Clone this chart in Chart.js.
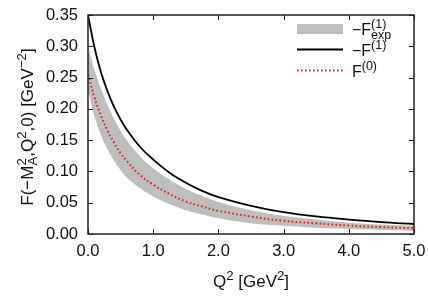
<!DOCTYPE html>
<html>
<head>
<meta charset="utf-8">
<script src="https://cdn.jsdelivr.net/npm/chart.js@4.4.1/dist/chart.umd.min.js"></script>
<style>
  html, body { margin: 0; padding: 0; background: #fff; }
  #wrap { width: 428px; height: 298px; }
</style>
</head>
<body>
<div id="wrap"><canvas id="chart" width="428" height="298"></canvas></div>
<script>
// Q^2 grid [GeV^2] and values
var q2 = [0, 0.1, 0.2, 0.3, 0.4, 0.5, 0.6, 0.8, 1.0, 1.25, 1.5, 1.75, 2.0, 2.5, 3.0, 3.5, 4.0, 4.5, 5.0];
var fTheory = [0.350, 0.298, 0.258, 0.228, 0.203, 0.183, 0.166, 0.139, 0.119, 0.098, 0.082, 0.069, 0.059, 0.045, 0.035, 0.028, 0.023, 0.019, 0.016];
var fExpUpper = [0.300, 0.262, 0.232, 0.206, 0.184, 0.165, 0.149, 0.124, 0.105, 0.087, 0.072, 0.061, 0.051, 0.038, 0.029, 0.023, 0.018, 0.015, 0.013];
var fExpLower = [0.230, 0.188, 0.158, 0.135, 0.117, 0.102, 0.090, 0.073, 0.060, 0.048, 0.038, 0.031, 0.025, 0.017, 0.013, 0.010, 0.008, 0.0065, 0.0052];
var fZero = [0.255, 0.218, 0.189, 0.165, 0.146, 0.129, 0.116, 0.094, 0.079, 0.064, 0.052, 0.044, 0.037, 0.028, 0.021, 0.017, 0.0135, 0.011, 0.0093];
var xTicks = [0, 1, 2, 3, 4, 5];
var yTicks = [0, 0.05, 0.10, 0.15, 0.20, 0.25, 0.30, 0.35];

var FONT = "'Liberation Sans', Arial, sans-serif";
var TEXT = "#111";
var BAND = "#bebebe";
var RED = "rgb(222,30,30)";
var SUP = 0.78;

var toPoints = function (ys) {
    return q2.map(function (x, i) { return { x: x, y: ys[i] }; });
};

// base text with an optional superscript and/or subscript stacked after it
var richWidth = function (ctx, parts, fs) {
    var w = 0;
    parts.forEach(function (p) {
        ctx.font = fs + "px " + FONT;
        w += ctx.measureText(p.t).width;
        ctx.font = (fs * SUP) + "px " + FONT;
        var a = p.sup ? ctx.measureText(p.sup).width : 0;
        var b = p.sub ? ctx.measureText(p.sub).width : 0;
        w += Math.max(a, b);
    });
    return w;
};

var drawRich = function (ctx, parts, x, y, fs) {
    ctx.textBaseline = "alphabetic";
    ctx.textAlign = "left";
    parts.forEach(function (p) {
        ctx.font = fs + "px " + FONT;
        ctx.fillText(p.t, x, y);
        x += ctx.measureText(p.t).width;
        ctx.font = (fs * SUP) + "px " + FONT;
        var a = 0, b = 0;
        if (p.sup) { ctx.fillText(p.sup, x, y - fs * 0.42); a = ctx.measureText(p.sup).width; }
        if (p.sub) { ctx.fillText(p.sub, x, y + fs * 0.24); b = ctx.measureText(p.sub).width; }
        x += Math.max(a, b);
    });
};

var yTitle = [{ t: "F(\u2212M", sup: "2", sub: "A" }, { t: ",Q", sup: "2" }, { t: ",0) [GeV", sup: "\u22122" }, { t: "]" }];
var xTitle = [{ t: "Q", sup: "2" }, { t: " [GeV", sup: "2" }, { t: "]" }];
var legendItems = [
    { kind: "band", parts: [{ t: "\u2212F", sup: "(1)", sub: "exp" }] },
    { kind: "line", parts: [{ t: "\u2212F", sup: "(1)" }] },
    { kind: "dot", parts: [{ t: "F", sup: "(0)" }] }
];

var framePlugin = {
    id: "frame",
    afterDraw: function (chart) {
        var ctx = chart.ctx, a = chart.chartArea;
        var xs = chart.scales.x, ys = chart.scales.y;
        ctx.save();
        ctx.strokeStyle = "#222";
        ctx.lineWidth = 1.5;
        ctx.strokeRect(a.left, a.top, a.right - a.left, a.bottom - a.top);
        ctx.lineWidth = 1;
        ctx.beginPath();
        xTicks.forEach(function (v) {
            var px = Math.round(xs.getPixelForValue(v)) + 0.5;
            ctx.moveTo(px, a.bottom); ctx.lineTo(px, a.bottom - 5);
            ctx.moveTo(px, a.top); ctx.lineTo(px, a.top + 5);
        });
        yTicks.forEach(function (v) {
            var py = Math.round(ys.getPixelForValue(v)) + 0.5;
            ctx.moveTo(a.left, py); ctx.lineTo(a.left + 5, py);
            ctx.moveTo(a.right, py); ctx.lineTo(a.right - 5, py);
        });
        ctx.stroke();

        // axis titles
        ctx.fillStyle = TEXT;
        var fs = 17;
        var w = richWidth(ctx, xTitle, fs);
        drawRich(ctx, xTitle, (a.left + a.right) / 2 - w / 2, 287, fs);
        ctx.save();
        ctx.translate(33, 127);
        ctx.rotate(-Math.PI / 2);
        w = richWidth(ctx, yTitle, fs);
        drawRich(ctx, yTitle, -w / 2, 0, fs);
        ctx.restore();

        // legend
        var sx0 = 297, sx1 = 343, rows = [29, 49.5, 70.5];
        legendItems.forEach(function (it, i) {
            var cy = rows[i];
            if (it.kind === "band") {
                ctx.fillStyle = BAND;
                ctx.fillRect(sx0, cy - 5, sx1 - sx0, 10);
            } else {
                ctx.beginPath();
                ctx.strokeStyle = it.kind === "line" ? "#000" : RED;
                ctx.lineWidth = it.kind === "line" ? 1.8 : 2;
                ctx.setLineDash(it.kind === "line" ? [] : [1.6, 2.4]);
                ctx.moveTo(sx0, cy); ctx.lineTo(sx1, cy);
                ctx.stroke();
                ctx.setLineDash([]);
            }
            ctx.fillStyle = TEXT;
            drawRich(ctx, it.parts, 352, cy + 6, 16);
        });
        ctx.restore();
    }
};

new Chart(document.getElementById("chart"), {
    type: "line",
    data: {
        datasets: [
            {
                label: "upper",
                data: toPoints(fExpUpper),
                borderWidth: 0,
                borderColor: BAND,
                backgroundColor: BAND,
                fill: "+1",
                pointRadius: 0,
                tension: 0.4,
                order: 10
            },
            {
                label: "lower",
                data: toPoints(fExpLower),
                borderWidth: 0,
                borderColor: BAND,
                backgroundColor: BAND,
                fill: false,
                pointRadius: 0,
                tension: 0.4,
                order: 9
            },
            {
                label: "F0",
                data: toPoints(fZero),
                borderColor: RED,
                borderWidth: 2,
                borderDash: [1.6, 2.4],
                fill: false,
                pointRadius: 0,
                tension: 0.4,
                order: 1
            },
            {
                label: "F1",
                data: toPoints(fTheory),
                borderColor: "#000",
                borderWidth: 1.8,
                fill: false,
                pointRadius: 0,
                tension: 0.4,
                order: 2
            }
        ]
    },
    options: {
        responsive: false,
        animation: false,
        events: [],
        layout: { padding: { left: 0, right: 14, top: 15, bottom: 0 } },
        plugins: { legend: { display: false }, tooltip: { enabled: false } },
        scales: {
            x: {
                type: "linear",
                min: 0, max: 5,
                afterFit: function (s) { s.height = 64; s.paddingLeft = 0; s.paddingRight = 0; },
                afterBuildTicks: function (s) { s.ticks = xTicks.map(function (v) { return { value: v }; }); },
                grid: { display: false, drawTicks: false },
                border: { display: false },
                ticks: {
                    padding: 8,
                    color: TEXT,
                    font: { family: FONT, size: 16.5 },
                    maxRotation: 0,
                    callback: function (v) { return Number(v).toFixed(1); }
                }
            },
            y: {
                type: "linear",
                min: 0, max: 0.35,
                afterFit: function (s) { s.width = 88; s.paddingTop = 0; s.paddingBottom = 0; },
                afterBuildTicks: function (s) { s.ticks = yTicks.map(function (v) { return { value: v }; }); },
                grid: { display: false, drawTicks: false },
                border: { display: false },
                ticks: {
                    padding: 10,
                    color: TEXT,
                    font: { family: FONT, size: 16.5 },
                    callback: function (v) { return Number(v).toFixed(2); }
                }
            }
        }
    },
    plugins: [framePlugin]
});
</script>
</body>
</html>
